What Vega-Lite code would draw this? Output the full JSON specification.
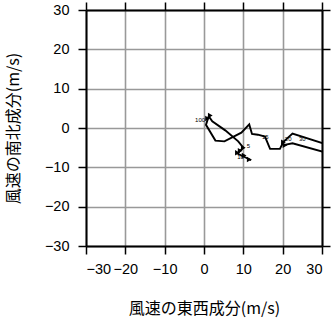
{
  "$schema": "https://vega.github.io/schema/vega-lite/v6.json",
  "width": 236,
  "height": 236,
  "autosize": {"type": "none"},
  "padding": {"left": 86, "top": 10, "right": 10, "bottom": 73},
  "background": "white",
  "config": {
    "view": {"stroke": null},
    "axis": {
      "labelFont": "Liberation Sans",
      "labelFontSize": 14.5,
      "labelColor": "black",
      "tickColor": "black",
      "tickWidth": 1.5,
      "tickSize": 8,
      "domainColor": "black",
      "domainWidth": 2,
      "gridColor": "#999999",
      "gridWidth": 1.6,
      "gridOpacity": 1,
      "titleFont": "Noto Sans CJK JP",
      "titleFontSize": 16,
      "titleFontWeight": "normal",
      "titleColor": "black"
    }
  },
  "datasets": {
    "path": [
      {"seg": "A", "ord": 1, "u": 1.2, "v": 3.0},
      {"seg": "A", "ord": 2, "u": 0.5, "v": 0.8},
      {"seg": "A", "ord": 3, "u": 2.9, "v": -3.2},
      {"seg": "A", "ord": 4, "u": 5.2, "v": -3.4},
      {"seg": "A", "ord": 5, "u": 9.5, "v": -1.2},
      {"seg": "A", "ord": 6, "u": 11.5, "v": 0.9},
      {"seg": "A", "ord": 7, "u": 12.2, "v": -1.5},
      {"seg": "A", "ord": 8, "u": 13.7, "v": -1.7},
      {"seg": "A", "ord": 9, "u": 15.5, "v": -2.2},
      {"seg": "A", "ord": 10, "u": 16.8, "v": -5.3},
      {"seg": "A", "ord": 11, "u": 19.3, "v": -5.3},
      {"seg": "A", "ord": 12, "u": 20.2, "v": -3.5},
      {"seg": "A", "ord": 13, "u": 22.5, "v": -1.4},
      {"seg": "A", "ord": 14, "u": 30.5, "v": -4.0},
      {"seg": "B", "ord": 1, "u": 30.5, "v": -6.1},
      {"seg": "B", "ord": 2, "u": 22.5, "v": -3.9},
      {"seg": "B", "ord": 3, "u": 20.5, "v": -4.3},
      {"seg": "C", "ord": 1, "u": 1.2, "v": 3.0},
      {"seg": "C", "ord": 2, "u": 2.1, "v": 1.7},
      {"seg": "C", "ord": 3, "u": 5.4, "v": -0.6},
      {"seg": "C", "ord": 4, "u": 8.7, "v": -3.4},
      {"seg": "C", "ord": 5, "u": 10.0, "v": -5.0},
      {"seg": "C", "ord": 6, "u": 8.5, "v": -6.5},
      {"seg": "C", "ord": 7, "u": 12.0, "v": -8.2}
    ],
    "marks": [
      {"u": 1.6, "v": 3.2},
      {"u": 0.9, "v": 2.4},
      {"u": 10.0, "v": -5.0},
      {"u": 9.2, "v": -5.8},
      {"u": 8.5, "v": -6.3},
      {"u": 10.2, "v": -7.0},
      {"u": 11.5, "v": -8.0},
      {"u": 20.2, "v": -3.6},
      {"u": 20.6, "v": -4.4}
    ],
    "labels": [
      {"u": -1.0, "v": 2.0, "t": "100"},
      {"u": 11.3, "v": -4.6, "t": "5"},
      {"u": 9.3, "v": -7.4, "t": "10"},
      {"u": 15.6, "v": -2.3, "t": "15"},
      {"u": 21.4, "v": -2.7, "t": "20"},
      {"u": 25.0, "v": -2.9, "t": "30"}
    ]
  },
  "layer": [
    {
      "data": {"name": "path"},
      "mark": {"type": "line", "color": "black", "strokeWidth": 1.9, "clip": true},
      "encoding": {
        "x": {
          "field": "u", "type": "quantitative",
          "scale": {"domain": [-30, 30], "nice": false, "zero": false},
          "axis": {
            "orient": "bottom", "values": [-30, -20, -10, 0, 10, 20, 30],
            "labelPadding": 8, "grid": true,
            "title": "風速の東西成分(m/s)",
            "titleX": 118, "titleY": 62, "titleAlign": "center", "titleBaseline": "middle"
          }
        },
        "y": {
          "field": "v", "type": "quantitative",
          "scale": {"domain": [-30, 30], "nice": false, "zero": false},
          "axis": {
            "orient": "left", "values": [-30, -20, -10, 0, 10, 20, 30],
            "labelPadding": 9, "grid": true,
            "title": "風速の南北成分(m/s)",
            "titleX": -73, "titleY": 118, "titleAngle": -90, "titleAlign": "center", "titleBaseline": "middle"
          }
        },
        "detail": {"field": "seg", "type": "nominal"},
        "order": {"field": "ord", "type": "quantitative"}
      }
    },
    {
      "data": {"name": "marks"},
      "mark": {"type": "point", "shape": "triangle-right", "filled": true, "color": "black", "size": 30, "opacity": 1},
      "encoding": {
        "x": {"field": "u", "type": "quantitative", "scale": {"domain": [-30, 30], "nice": false, "zero": false}, "axis": null},
        "y": {"field": "v", "type": "quantitative", "scale": {"domain": [-30, 30], "nice": false, "zero": false}, "axis": null}
      }
    },
    {
      "data": {"name": "labels"},
      "mark": {"type": "text", "font": "Liberation Sans", "fontSize": 6, "color": "black", "align": "center", "baseline": "middle"},
      "encoding": {
        "x": {
          "field": "u", "type": "quantitative",
          "scale": {"domain": [-30, 30], "nice": false, "zero": false},
          "axis": {"orient": "top", "values": [-30, -20, -10, 0, 10, 20, 30], "labels": false, "grid": false, "title": null}
        },
        "y": {
          "field": "v", "type": "quantitative",
          "scale": {"domain": [-30, 30], "nice": false, "zero": false},
          "axis": {"orient": "right", "values": [-30, -20, -10, 0, 10, 20, 30], "labels": false, "grid": false, "title": null}
        },
        "text": {"field": "t", "type": "nominal"}
      }
    }
  ],
  "resolve": {"axis": {"x": "independent", "y": "independent"}}
}
